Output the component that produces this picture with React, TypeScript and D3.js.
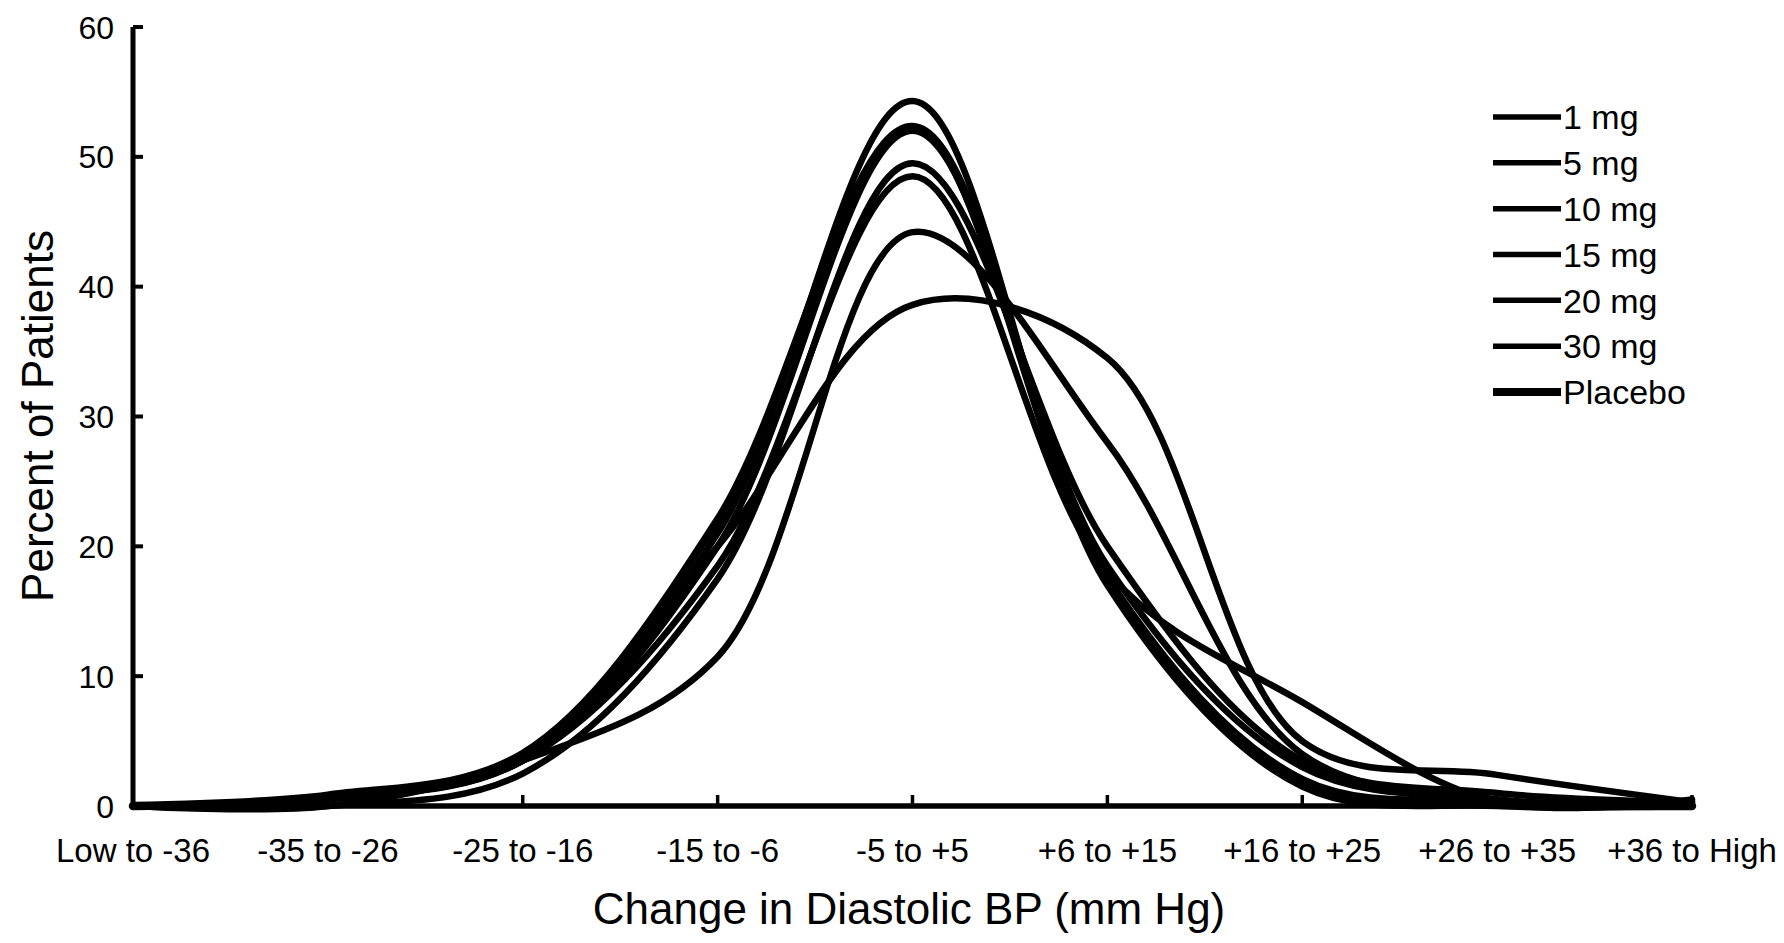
import React from 'react';
import * as d3 from 'd3';

const categories = [
  'Low to -36', '-35 to -26', '-25 to -16', '-15 to -6', '-5 to +5',
  '+6 to +15', '+16 to +25', '+26 to +35', '+36 to High',
];

const yTicks = [0, 10, 20, 30, 40, 50, 60];

const mg1 = [0, 0.6, 3.8, 21, 54.3, 17, 1.5, 0, 0];
const mg5 = [0, 0.6, 3.5, 20, 52, 18.5, 3, 0.5, 0];
const mg10 = [0, 0, 2.5, 17.5, 49.5, 20, 3.5, 1, 0.3];
const mg15 = [0, 0.5, 3.5, 18.5, 48.5, 18, 8, 0.3, 0.5];
const mg20 = [0, 0, 3.5, 11.5, 44.2, 28, 4, 0.5, 0];
const mg30 = [0, 0.5, 3.5, 20, 38.6, 34.5, 5, 2.4, 0.3];
const placebo = [0, 0.8, 4, 22, 52.3, 17.5, 2, 0.3, 0];

const seriesNames = ['1 mg', '5 mg', '10 mg', '15 mg', '20 mg', '30 mg', 'Placebo'];
const seriesValues = [mg1, mg5, mg10, mg15, mg20, mg30, placebo];

const font = '"Liberation Sans", Arial, Helvetica, sans-serif';

export default function App() {
  const width = 1784;
  const height = 943;

  const x = d3.scalePoint<string>().domain(categories).range([133, 1692]);
  const y = d3.scaleLinear().domain([0, 60]).range([806, 27]);

  const line = d3
    .line<number>()
    .x((d, i) => x(categories[i]) as number)
    .y((d) => y(d))
    .curve(d3.curveCatmullRom.alpha(0.5));

  const legendY = d3.scalePoint<string>().domain(seriesNames).range([117, 392]);

  return (
    <svg
      width={width}
      height={height}
      style={{ position: 'absolute', left: 0, top: 0, background: '#fff' }}
      fontFamily={font}
    >
      {/* curves */}
      {seriesValues.map((vals, i) => (
        <path
          key={seriesNames[i]}
          d={line(vals) || ''}
          fill="none"
          stroke="#000"
          strokeWidth={seriesNames[i] === 'Placebo' ? 8.5 : 6.5}
          strokeLinejoin="round"
          strokeLinecap="round"
        />
      ))}

      {/* y axis */}
      <line x1={133} x2={133} y1={y(60)} y2={y(0) + 2} stroke="#000" strokeWidth={5} />
      {yTicks.map((t) => (
        <g key={t}>
          <line x1={133} x2={143} y1={y(t)} y2={y(t)} stroke="#000" strokeWidth={4} />
          <text x={114} y={y(t)} dy="0.36em" textAnchor="end" fontSize={32}>
            {t}
          </text>
        </g>
      ))}

      {/* x axis */}
      <line x1={131} x2={1692} y1={y(0)} y2={y(0)} stroke="#000" strokeWidth={5.5} />
      {categories.map((c) => (
        <g key={c}>
          <line x1={x(c)} x2={x(c)} y1={y(0)} y2={y(0) - 11} stroke="#000" strokeWidth={3.5} />
          <text x={x(c)} y={862} textAnchor="middle" fontSize={33}>
            {c}
          </text>
        </g>
      ))}

      {/* axis titles */}
      <text x={909} y={924} textAnchor="middle" fontSize={44}>
        Change in Diastolic BP (mm Hg)
      </text>
      <text
        transform={`translate(53, 416) rotate(-90)`}
        textAnchor="middle"
        fontSize={44}
      >
        Percent of Patients
      </text>

      {/* legend */}
      {seriesNames.map((n) => (
        <g key={n}>
          <line
            x1={1493}
            x2={1561}
            y1={legendY(n)}
            y2={legendY(n)}
            stroke="#000"
            strokeWidth={n === 'Placebo' ? 8 : 5.5}
          />
          <text x={1563} y={legendY(n)} dy="0.36em" fontSize={34}>
            {n}
          </text>
        </g>
      ))}
    </svg>
  );
}
